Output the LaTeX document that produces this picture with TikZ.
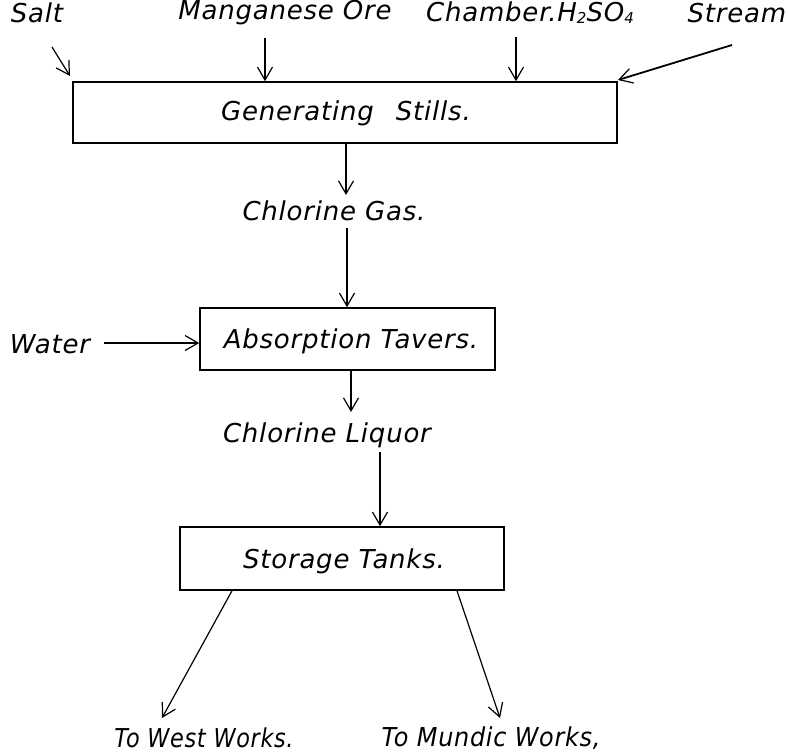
\documentclass[tikz,border=0pt]{standalone}
\usepackage{fontspec}
\setmainfont{DejaVu Sans}
\usetikzlibrary{arrows.meta}
\newfontfamily\hand[LetterSpace=3]{DejaVu Sans Oblique}
\newcommand{\lowsub}[1]{\raisebox{-2pt}{\fontsize{15}{16}\selectfont #1}}
\tikzset{
  boxed/.style={draw, line width=1.5pt, rectangle, inner sep=0pt},
  lab/.style={font=\hand\fontsize{26}{30}\selectfont, inner sep=0pt},
  flow/.style={line width=1.2pt, -{Straight Barb[length=13pt,width=15pt,line width=1.2pt]}},
}
\begin{document}
\begin{tikzpicture}[x=1pt,y=-1pt]
\path[fill=white] (0,0) rectangle (788,753);
\useasboundingbox (0,0) rectangle (788,753);
% boxes
\node[boxed, minimum width=544pt, minimum height=61pt] (gen) at (345,112.5) {};
\node[lab] (gent) at (346,113) {Generating\hspace{22pt}Stills.};
\node[boxed, minimum width=295pt, minimum height=62pt] (abs) at (347.5,339) {};
\node[lab] (abst) at (351,341) {Absorption Tavers.};
\node[boxed, minimum width=324pt, minimum height=63pt] (sto) at (342,558.5) {};
\node[lab] (stot) at (344,561) {Storage Tanks.};
% labels
\node[lab] (salt) at (37,13) {Salt};
\node[lab] (mang) at (285,13) {Manganese Ore};
\node[lab] (chamb) at (530,13) {Chamber.H\lowsub{2}SO\lowsub{4}};
\node[lab] (stream) at (737,13) {Stream};
\node[lab] (gas) at (334,211) {Chlorine Gas.};
\node[lab] (water) at (50,344) {Water};
\node[lab] (liquor) at (327,435) {Chlorine Liquor};
\node[lab] (west) at (204,738) {\scalebox{0.86}[1]{\hand\fontsize{26}{30}\selectfont To West Works.}};
\node[lab] (mundic) at (491,738) {\scalebox{0.92}[1]{\hand\fontsize{26}{30}\selectfont To Mundic Works,}};
% free ends
\coordinate (s1) at (52,47);
\coordinate (s2) at (70,76);
\coordinate (m1) at (265,38);
\coordinate (c1) at (516,37);
\coordinate (t1) at (732,45);
\coordinate (t2) at (618,80);
\coordinate (g1) at (346,0);
\coordinate (g2) at (347,0);
\coordinate (l1) at (351,0);
\coordinate (l2) at (380,0);
\coordinate (w0) at (104,343);
\coordinate (w1) at (232,0);
\coordinate (w2) at (162,718);
\coordinate (u1) at (457,0);
\coordinate (u2) at (500,718);
% connectors
\draw[flow] (s1) -- (s2);
\draw[flow] (m1) -- (m1 |- gen.north);
\draw[flow] (c1) -- (c1 |- gen.north);
\draw[flow, line width=1.8pt] (t1) -- (t2);
\draw[flow] (g1 |- gen.south) -- (g1 |- 0,195);
\draw[flow] (g2 |- 0,228) -- (g2 |- abs.north);
\draw[flow] (w0) -- (abs.west |- w0);
\draw[flow] (l1 |- abs.south) -- (l1 |- 0,412);
\draw[flow] (l2 |- 0,452) -- (l2 |- sto.north);
\draw[flow] (w1 |- sto.south) -- (w2);
\draw[flow] (u1 |- sto.south) -- (u2);
\end{tikzpicture}
\end{document}
